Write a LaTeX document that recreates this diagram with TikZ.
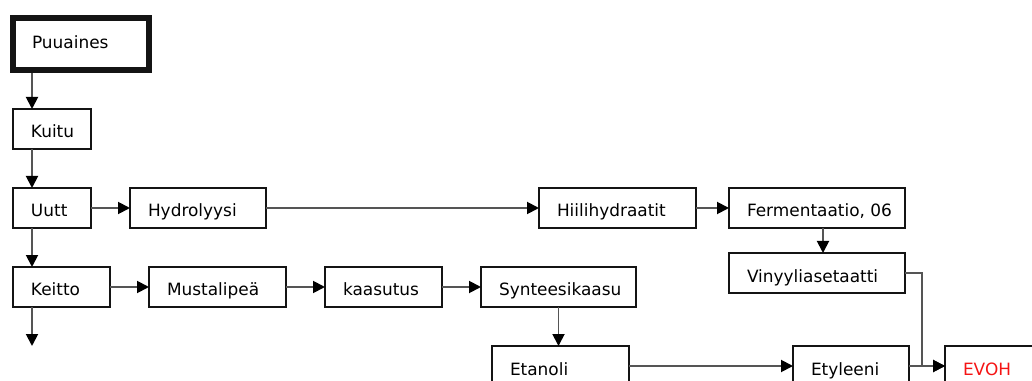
\documentclass[tikz,border=0pt]{standalone}
\usepackage{fontspec}
\setmainfont{DejaVu Sans}
\usetikzlibrary{arrows.meta,calc}
\definecolor{boxline}{RGB}{20,20,20}
\definecolor{conn}{RGB}{85,85,85}
\definecolor{evohred}{RGB}{245,20,20}
% left-aligned label of fixed width inside a box
\newcommand\boxtxt[2]{\makebox[#1][l]{#2}}
\begin{document}
\begin{tikzpicture}[x=0.75pt,y=-0.75pt,
  box/.style={draw=boxline, line width=1.15pt, anchor=north west, outer sep=0pt,
    inner xsep=13.5pt, inner ysep=0pt, minimum height=30pt,
    text height=13.5pt, text depth=0pt,
    font=\fontsize{12.7}{14}\selectfont, text=black},
  startbox/.style={box, line width=4.6pt, outer sep=2.3pt, minimum height=39pt,
    inner xsep=14.25pt, text height=8pt, text depth=2pt},
  arr/.style={draw=conn, line width=1.4pt,
    -{Triangle[length=9pt,width=9pt,color=black,fill=black]}},
  ]
\fill[white] (0,0) rectangle (1032,381);
\useasboundingbox (0,0) rectangle (1032,381);
\clip (0,0) rectangle (1032,381);

% process boxes
\node[startbox, minimum width=102pt] (puu) at (10,15) {\boxtxt{73.5pt}{Puuaines}};
\node[box, minimum width=58.5pt] (kuitu) at (13,109) {\boxtxt{31.5pt}{Kuitu}};
\node[box, minimum width=58.5pt] (uutt) at (13,188) {\boxtxt{31.5pt}{Uutt}};
\node[box, minimum width=102pt] (hydro) at (130,188) {\boxtxt{75pt}{Hydrolyysi}};
\node[box, minimum width=72.75pt] (keitto) at (13,267) {\boxtxt{45.75pt}{Keitto}};
\node[box, minimum width=102.75pt] (musta) at (149,267) {\boxtxt{75.75pt}{Mustalipeä}};
\node[box, minimum width=87.75pt] (kaasu) at (325,267) {\boxtxt{60.75pt}{kaasutus}};
\node[box, minimum width=116.25pt] (synt) at (481,267) {\boxtxt{89.25pt}{Synteesikaasu}};
\node[box, minimum width=117.75pt] (hiili) at (539,188) {\boxtxt{90.75pt}{Hiilihydraatit}};
\node[box, minimum width=132pt] (ferm) at (729,188) {\boxtxt{105pt}{Fermentaatio, 06}};
\node[box, minimum width=132pt] (viny) at (729,253) {\boxtxt{105pt}{Vinyyliasetaatti}};
\node[box, minimum width=102.75pt] (etanoli) at (492,346) {\boxtxt{75.75pt}{Etanoli}};
\node[box, minimum width=87pt] (etyl) at (793,346) {\boxtxt{60pt}{Etyleeni}};
\node[box, minimum width=90pt, text=evohred] (evoh) at (945,346) {\boxtxt{63pt}{EVOH}};

% guide positions for the vertical connectors
\coordinate (spine) at (32,0);
\coordinate (fermx) at (823,0);
\coordinate (vbend) at (922,0);
\coordinate (kout) at (32,346);

% connectors
\draw[arr] (puu.south -| spine) -- (kuitu.north -| spine);
\draw[arr] (kuitu.south -| spine) -- (uutt.north -| spine);
\draw[arr] (uutt.south -| spine) -- (keitto.north -| spine);
\draw[arr] (keitto.south -| kout) -- (kout);
\draw[arr] (uutt.east) -- (hydro.west);
\draw[arr] (hydro.east) -- (hiili.west);
\draw[arr] (hiili.east) -- (ferm.west);
\draw[arr] (ferm.south -| fermx) -- (viny.north -| fermx);
\draw[arr] (keitto.east) -- (musta.west);
\draw[arr] (musta.east) -- (kaasu.west);
\draw[arr] (kaasu.east) -- (synt.west);
\draw[arr] (synt.south) -- (etanoli.north -| synt.south);
\draw[arr] (etanoli.east) -- (etyl.west);
\draw[arr] (etyl.east) -- (evoh.west);
\draw[arr] (viny.east) -| (vbend |- evoh.west) -- (evoh.west);
\end{tikzpicture}
\end{document}
